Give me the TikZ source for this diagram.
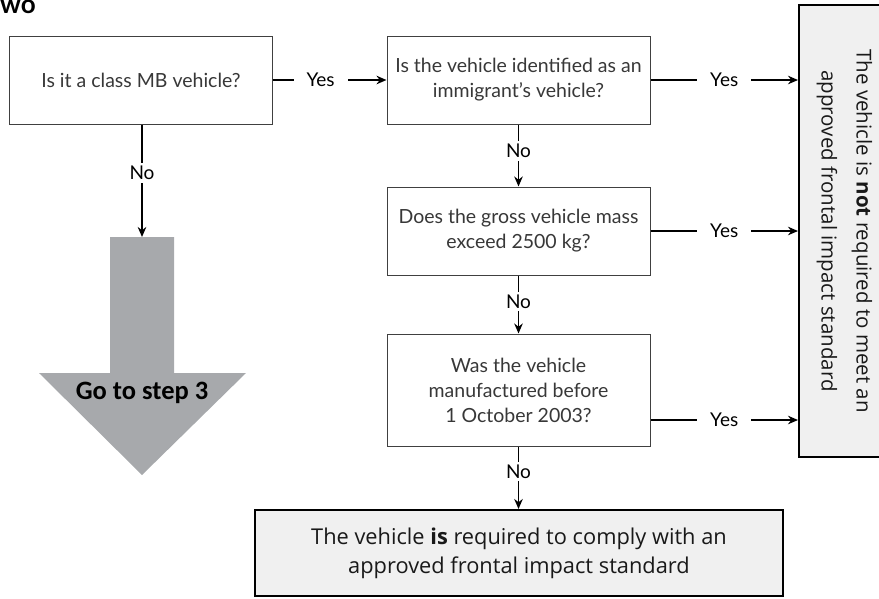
\documentclass[tikz,border=0pt]{standalone}
\usepackage{fontspec}
\setmainfont{Lato}
\newfontfamily\osans{Open Sans}
\newfontfamily\carl{Carlito}
\usetikzlibrary{arrows.meta}
\definecolor{boxgray}{HTML}{F0F0F0}
\definecolor{arrowgray}{HTML}{A7A9AC}
\begin{document}
\begin{tikzpicture}[x=1pt,y=-1pt,
  qbox/.style={draw=black!75, line width=1pt, fill=white, align=center,
    minimum width=263pt, inner sep=2pt, text=black!78,
    font=\fontsize{19.5}{25}\selectfont},
  endbox/.style={draw=black, line width=2pt, fill=boxgray},
  conn/.style={line width=1.8pt, -{Stealth[length=10pt,width=8.5pt]}},
  lyes/.style={fill=white, inner xsep=13pt, inner ysep=1pt, text=black,
    font=\fontsize{19}{21}\selectfont},
  lno/.style={fill=white, inner xsep=1pt, inner ysep=3pt, text=black,
    font=\fontsize{19}{21}\selectfont},
]
\useasboundingbox (0,0) rectangle (879,598);

% heading fragment
\node[anchor=base west, inner sep=0pt, font=\fontsize{26}{28}\selectfont\bfseries] (head) at (0,13) {wo};

% question boxes
\node[qbox, minimum height=88pt] (b1) at (141,80) {Is it a class MB vehicle?};
\node[qbox, minimum height=88pt] (b2) at (518.5,80) {Is the vehicle identified as an\\immigrant’s vehicle?};
\node[qbox, minimum height=88pt] (b3) at (518.5,231) {Does the gross vehicle mass\\exceed 2500 kg?};
\node[qbox, minimum height=112pt] (b4) at (518.5,390) {Was the vehicle\\manufactured before\\1 October 2003?};

% outcome boxes
\node[endbox, minimum width=86pt, minimum height=452pt] (rbox) at (842,231) {};
\node[rotate=-90, align=center, text=black!90, font=\osans\fontsize{20.5}{35}\selectfont] (rtext) at (844.5,231)
  {The vehicle is \textbf{not} required to meet an\\approved frontal impact standard};
\node[endbox, minimum width=528pt, minimum height=86pt, align=center, text=black!90,
  font=\osans\fontsize{21.8}{29}\selectfont] (bbox) at (519,553)
  {The vehicle \textbf{is} required to comply with an\\approved frontal impact standard};

% big grey arrow
\fill[arrowgray] (110,237) -- (174,237) -- (174,373) -- (246,373) -- (142,475) -- (39,373) -- (110,373) -- cycle;
\coordinate (gtop) at (142,237);
\node[font=\carl\bfseries\fontsize{26.5}{28}\selectfont] (go) at (142,393) {Go to step 3};

% connectors
\draw[conn] (b1.east) -- node[lyes, pos=0.42] {Yes} (b2.west);
\draw[conn] (b1.south -| gtop) -- node[lno, pos=0.43] {No} (gtop);
\draw[conn] (b2.south) -- node[lno, pos=0.43] {No} (b3.north);
\draw[conn] (b3.south) -- node[lno, pos=0.45] {No} (b4.north);
\draw[conn] (b4.south) -- node[lno, pos=0.4] {No} (bbox.north -| b4.south);
\draw[conn] (b2.east) -- node[lyes] {Yes} (b2.east -| rbox.west);
\draw[conn] (b3.east) -- node[lyes] {Yes} (b3.east -| rbox.west);
\draw[conn] ([yshift=-30pt]b4.east) -- node[lyes] {Yes} ([yshift=-30pt]b4.east -| rbox.west);
\end{tikzpicture}
\end{document}
